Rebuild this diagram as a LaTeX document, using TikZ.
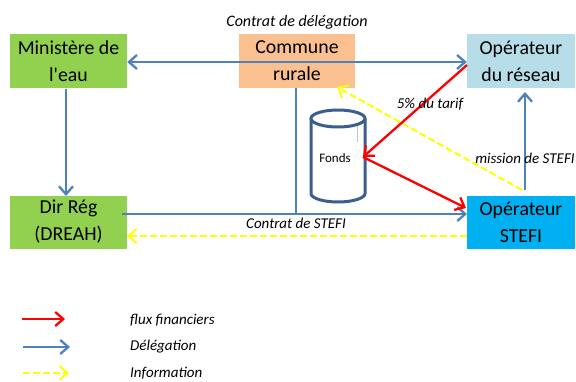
\documentclass[tikz,border=0pt]{standalone}
\usepackage{fontspec}
\setmainfont{Carlito}
\usetikzlibrary{arrows.meta}
\definecolor{dblue}{HTML}{4F81BD}
\definecolor{cylblue}{HTML}{3B5F8C}
\definecolor{fgreen}{HTML}{92D050}
\definecolor{fpeach}{HTML}{FAC090}
\definecolor{flblue}{HTML}{B7DEE8}
\definecolor{fcyan}{HTML}{00B0F0}
\definecolor{fyel}{HTML}{FFFF00}
\definecolor{fred}{HTML}{FF0000}
\tikzset{
  box/.style={rectangle, inner sep=0pt, align=center, font=\fontsize{19.8}{27}\selectfont},
  lbl/.style={inner sep=0pt, font=\fontsize{15}{17}\selectfont\itshape},
  tip/.style={-{Straight Barb[length=8pt,width=14pt]}},
  deleg/.style={draw=dblue, line width=2.3pt},
  flux/.style={draw=fred, line width=2.3pt},
  info/.style={draw=fyel, line width=2pt, dash pattern=on 7pt off 3pt},
}
\begin{document}
\begin{tikzpicture}[x=1pt,y=-1pt]
\useasboundingbox (0,0) rectangle (576,381);
% boxes
\node[box, fill=fgreen, minimum width=117pt, minimum height=54pt] (min) at (68.5,61) {Ministère de\\l\textquotesingle eau};
\node[box, fill=fpeach, minimum width=116pt, minimum height=54pt] (com) at (297,61) {Commune\\rurale};
\node[box, fill=flblue, minimum width=108pt, minimum height=54pt] (res) at (521,61) {Opérateur\\du réseau};
\node[box, fill=fgreen, minimum width=117pt, minimum height=53pt] (dir) at (68.5,222) {Dir Rég\\(DREAH)};
\node[box, fill=fcyan, minimum width=108pt, minimum height=53pt] (stefi) at (521,222) {Opérateur\\STEFI};
% cylinder
\filldraw[draw=cylblue, fill=white, line width=3pt] (311,118.5) -- (311,193.5) arc[start angle=180, end angle=360, x radius=27pt, y radius=8.5pt] -- (365,118.5);
\draw[draw=cylblue, fill=white, line width=3pt] (338,118.5) ellipse [x radius=27pt, y radius=8.5pt];
\draw[draw=dblue!45, line width=0.8pt] (357,126) -- (357,142);
\node[inner sep=0pt, font=\fontsize{13}{15}\selectfont] (fonds) at (335,158) {Fonds};
% coordinates
\coordinate (fR) at (363,157);
\coordinate (resR) at (467,65);
\coordinate (stefiR) at (466,208);
\coordinate (comJ) at (296,214);
\coordinate (dirE) at (122,214);
\coordinate (stefiW) at (467,214);
\coordinate (stefiY) at (467,236);
\coordinate (dirY) at (127,236);
\coordinate (stefiN) at (525,190);
\coordinate (resS) at (525,92);
\coordinate (yS) at (522,190);
\coordinate (comS) at (337,87);
% delegation lines
\draw[deleg, {Straight Barb[length=8pt,width=14pt]}-{Straight Barb[length=8pt,width=14pt]}] (min.east |- 0,62) -- (res.west |- 0,62);
\draw[deleg, tip] (66,89) -- (66,196);
\draw[deleg] (com.south -| comJ) -- (comJ);
\draw[deleg, tip] (dirE) -- (stefiW);
\draw[deleg, tip] (stefiN) -- (resS);
% information
\draw[info, tip] (stefiY) -- (dirY);
\draw[info, tip] (yS) -- (comS);
% flux
\draw[flux, tip] (resR) -- (fR);
\draw[flux, tip] (fR) -- (stefiR);
% labels
\node[lbl, font=\fontsize{16}{18}\selectfont\itshape] (l1) at (297,22) {Contrat de délégation};
\node[lbl] (l2) at (430,104) {5\% du tarif};
\node[lbl] (l3) at (525,158) {mission de STEFI};
\node[lbl] (l4) at (296,223) {Contrat de STEFI};
% legend
\coordinate (a1) at (22,319); \coordinate (b1) at (65,319);
\coordinate (a2) at (23,347); \coordinate (b2) at (70,347);
\coordinate (a3) at (23,373); \coordinate (b3) at (69,373);
\draw[flux, tip] (a1) -- (b1);
\draw[deleg, tip] (a2) -- (b2);
\draw[info, tip] (a3) -- (b3);
\node[lbl, anchor=west] (t1) at (130,320) {flux financiers};
\node[lbl, anchor=west] (t2) at (130,347) {Délégation};
\node[lbl, anchor=west] (t3) at (130,373) {Information};
\end{tikzpicture}
\end{document}
